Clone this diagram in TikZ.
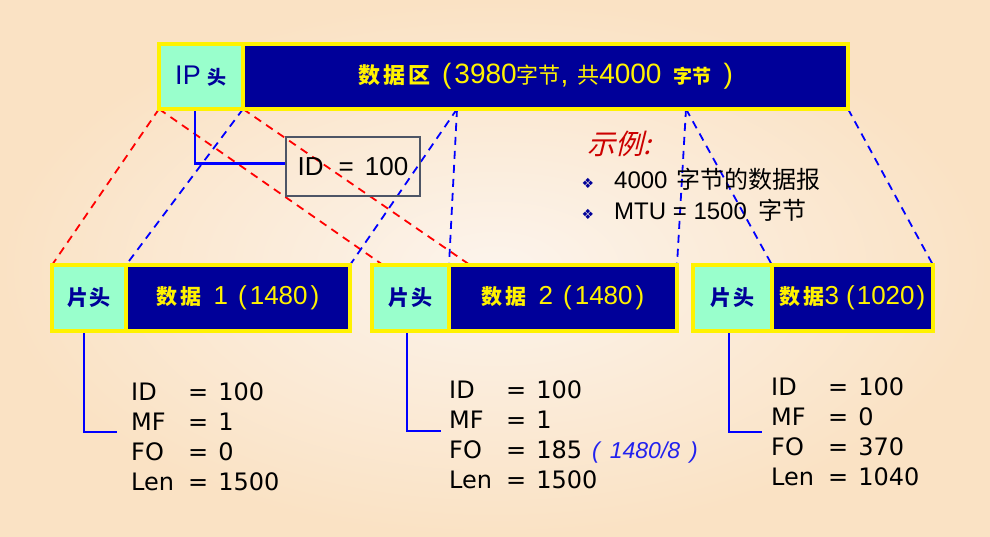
\documentclass[tikz,border=0pt]{standalone}
\usepackage{fontspec}
\setmainfont{Liberation Sans}
\newfontfamily\dv{DejaVu Sans}
\newfontfamily\cjk{Noto Sans CJK SC}
\newfontfamily\cjkit{Noto Sans CJK SC}[FakeSlant=0.25]
\usetikzlibrary{calc}
\pgfdeclarelayer{bg}
\pgfsetlayers{bg,main}
\definecolor{mint}{HTML}{99FFCC}
\definecolor{navy}{HTML}{000099}
\definecolor{bgin}{HTML}{FCF4EC}
\definecolor{bgout}{HTML}{FAE2C4}
\definecolor{boxgray}{HTML}{4D5566}
\definecolor{exred}{HTML}{CC0000}
\definecolor{noteblue}{HTML}{2222EE}
\begin{document}
\begin{tikzpicture}[x=1pt,y=-1pt,
  cell/.style={draw=yellow, line width=4pt, outer sep=0pt, inner sep=0pt, minimum height=65pt},
  headcell/.style={cell, fill=mint, text=navy},
  datacell/.style={cell, fill=navy, text=yellow, font=\fontsize{26}{30}\selectfont},
  fraghead/.style={headcell, minimum height=66pt, font=\cjk\bfseries\fontsize{21}{24}\selectfont},
  fragdata/.style={datacell, minimum height=66pt},
  reddash/.style={draw=red, line width=1.8pt, dash pattern=on 8pt off 6pt},
  bluedash/.style={draw=blue, line width=1.8pt, dash pattern=on 8pt off 6pt},
  bluesolid/.style={draw=blue, line width=2.5pt},
  info/.style={anchor=base west, inner sep=0pt, font=\dv\fontsize{24}{28}\selectfont, text=black},
]
\useasboundingbox (0,0) rectangle (990,537);

% top datagram
\node[headcell, minimum width=84pt] (iph) at (201,76.5)
  {{\fontsize{27}{30}\selectfont IP}\hspace{7pt}{\cjk\bfseries\fontsize{19}{20}\selectfont 头}};
\node[datacell, minimum width=605pt, font=\fontsize{28}{30}\selectfont] (d0) at (545.5,76.5)
  {{\cjk\bfseries\fontsize{22}{24}\selectfont 数\hspace{3pt}据\hspace{3pt}区}\hspace{12pt}(\hspace{3pt}3980{\cjk\fontsize{22}{24}\selectfont 字节}, \hspace{1pt}{\cjk\fontsize{22}{24}\selectfont 共}4000\hspace{12pt}{\cjk\bfseries\fontsize{19}{20}\selectfont 字节}\hspace{12pt})};

% fragments
\node[fraghead, minimum width=74pt] (h1) at (89,298) {片\hspace{2pt}头};
\node[fragdata, minimum width=224pt] (d1) at (238,298)
  {{\cjk\bfseries\fontsize{21}{24}\selectfont 数\hspace{3pt}据}\hspace{12pt}1\hspace{10pt}(\hspace{3pt}1480\hspace{3pt})};
\node[fraghead, minimum width=77pt] (h2) at (410.5,298) {片\hspace{2pt}头};
\node[fragdata, minimum width=228pt] (d2) at (563,298)
  {{\cjk\bfseries\fontsize{21}{24}\selectfont 数\hspace{3pt}据}\hspace{12pt}2\hspace{10pt}(\hspace{3pt}1480\hspace{3pt})};
\node[fraghead, minimum width=79pt] (h3) at (732.5,298) {片\hspace{2pt}头};
\node[fragdata, minimum width=161pt] (d3) at (852.5,298)
  {{\cjk\bfseries\fontsize{21}{24}\selectfont 数\hspace{3pt}据}3\hspace{7pt}(\hspace{2pt}1020\hspace{2pt})};

% ID box
\node[draw=boxgray, line width=2pt, minimum width=134pt, minimum height=59pt, inner sep=0pt,
  font=\fontsize{26}{30}\selectfont] (idb) at (353,166.5) {ID\hspace{15pt}=\hspace{11pt}100};

% example
\node[anchor=base west, inner sep=0pt, text=exred, font=\cjkit\fontsize{28}{30}\selectfont] (ex) at (587,155) {示例:};
\node[text=navy, inner sep=0pt, font=\dv\fontsize{14}{15}\selectfont] (bu1) at (588,183) {❖};
\node[text=navy, inner sep=0pt, font=\dv\fontsize{14}{15}\selectfont] (bu2) at (588,214) {❖};
\node[anchor=base west, inner sep=0pt, font=\fontsize{24}{28}\selectfont] (ex1) at (614,189)
  {4000\hspace{9pt}{\cjk 字节的数据报}};
\node[anchor=base west, inner sep=0pt, font=\fontsize{24}{28}\selectfont] (ex2) at (614,220)
  {MTU = 1500\hspace{12pt}{\cjk 字节}};

% field lists
\node[info] (a1) at (131,400) {\makebox[57pt][l]{ID}=\hspace{10pt}100};
\node[info] (a2) at (131,430) {\makebox[57pt][l]{MF}=\hspace{10pt}1};
\node[info] (a3) at (131,460) {\makebox[57pt][l]{FO}=\hspace{10pt}0};
\node[info] (a4) at (131,490) {\makebox[57pt][l]{Len}=\hspace{10pt}1500};
\node[info] (b1t) at (449,398) {\makebox[57pt][l]{ID}=\hspace{10pt}100};
\node[info] (b2t) at (449,428) {\makebox[57pt][l]{MF}=\hspace{10pt}1};
\node[info] (b3t) at (449,458) {\makebox[57pt][l]{FO}=\hspace{10pt}185};
\node[info] (b4t) at (449,488) {\makebox[57pt][l]{Len}=\hspace{10pt}1500};
\node[anchor=base west, inner sep=0pt, text=noteblue, font=\fontsize{23}{26}\selectfont\itshape] (note) at (592,458)
  {(\hspace{10pt}1480/8\hspace{10pt})};
\node[info] (c1t) at (771,395) {\makebox[57pt][l]{ID}=\hspace{10pt}100};
\node[info] (c2t) at (771,425) {\makebox[57pt][l]{MF}=\hspace{10pt}0};
\node[info] (c3t) at (771,455) {\makebox[57pt][l]{FO}=\hspace{10pt}370};
\node[info] (c4t) at (771,485) {\makebox[57pt][l]{Len}=\hspace{10pt}1040};

\coordinate (t1) at (457,109);
\coordinate (t2) at (686,109);
\coordinate (k1) at (117,432);
\coordinate (k2) at (441,431);
\coordinate (k3) at (762,432);

\begin{pgfonlayer}{bg}
\shade[inner color=bgin, outer color=bgout] (0,0) rectangle (990,537);
\draw[reddash] (iph.south west) -- (h1.north west);
\draw[reddash] (iph.south west) -- ($(h2.north west)+(11,0)$);
\draw[reddash] (iph.south east) -- ($(h2.north east)+(21,0)$);
\draw[bluedash] (iph.south east) -- (h1.north east);
\draw[bluedash] (t1) -- (d1.north east);
\draw[bluedash] (t1) -- (d2.north west);
\draw[bluedash] (t2) -- (d2.north east);
\draw[bluedash] (t2) -- (d3.north west);
\draw[bluedash] (d0.south east) -- (d3.north east);
\draw[bluesolid] ($(iph.south)+(-6,0)$) |- ($(idb.west)+(0,-3)$);
\draw[bluesolid] ($(h1.south)+(-5,0)$) |- (k1);
\draw[bluesolid] ($(h2.south)+(-3.5,0)$) |- (k2);
\draw[bluesolid] ($(h3.south)+(-3.5,0)$) |- (k3);
\end{pgfonlayer}
\end{tikzpicture}
\end{document}
